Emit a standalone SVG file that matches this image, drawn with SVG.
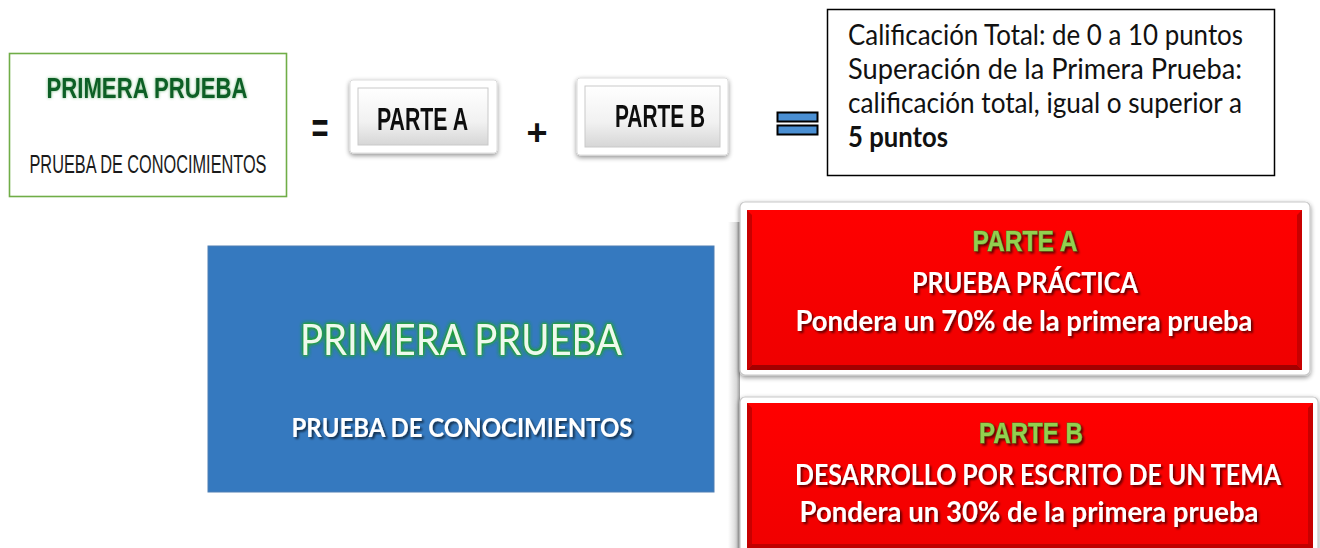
<svg xmlns="http://www.w3.org/2000/svg" width="1320" height="548" viewBox="0 0 1320 548">
  <defs>
    <linearGradient id="btnFace" x1="0" y1="0" x2="0" y2="1">
      <stop offset="0" stop-color="#ffffff"/>
      <stop offset="0.6" stop-color="#f1f1f1"/>
      <stop offset="1" stop-color="#d6d6d6"/>
    </linearGradient>
    <linearGradient id="redFace" x1="0" y1="0" x2="0" y2="1">
      <stop offset="0" stop-color="#ff0000"/>
      <stop offset="1" stop-color="#ef0000"/>
    </linearGradient>
    <linearGradient id="strip" x1="0" y1="0" x2="1" y2="0">
      <stop offset="0" stop-color="#ffffff"/>
      <stop offset="0.7" stop-color="#d8d8d8"/>
      <stop offset="1" stop-color="#9a9a9a"/>
    </linearGradient>
    <filter id="softShadow" x="-10%" y="-10%" width="120%" height="130%">
      <feGaussianBlur in="SourceAlpha" stdDeviation="2.5"/>
      <feOffset dx="0" dy="2" result="b"/>
      <feComponentTransfer><feFuncA type="linear" slope="0.45"/></feComponentTransfer>
      <feMerge><feMergeNode/><feMergeNode in="SourceGraphic"/></feMerge>
    </filter>
    <filter id="txtShadow" x="-10%" y="-30%" width="120%" height="170%">
      <feGaussianBlur in="SourceAlpha" stdDeviation="1"/>
      <feOffset dx="1.5" dy="1.5"/>
      <feComponentTransfer><feFuncA type="linear" slope="0.6"/></feComponentTransfer>
      <feMerge><feMergeNode/><feMergeNode in="SourceGraphic"/></feMerge>
    </filter>
    <filter id="greenGlow" x="-10%" y="-30%" width="120%" height="160%">
      <feGaussianBlur in="SourceAlpha" stdDeviation="2.2" result="bl"/>
      <feFlood flood-color="#1f9a3c"/>
      <feComposite operator="in" in2="bl"/>
      <feComponentTransfer><feFuncA type="linear" slope="1.8"/></feComponentTransfer>
      <feMerge><feMergeNode/><feMergeNode in="SourceGraphic"/></feMerge>
    </filter>
    <filter id="darkGlow" x="-10%" y="-30%" width="120%" height="160%">
      <feGaussianBlur in="SourceAlpha" stdDeviation="1.5" result="bl"/>
      <feFlood flood-color="#3b9a4a" flood-opacity="0.7"/>
      <feComposite operator="in" in2="bl"/>
      <feMerge><feMergeNode/><feMergeNode in="SourceGraphic"/></feMerge>
    </filter>
  </defs>
  <style>
    .sans { font-family: "Lato", "Liberation Sans", "DejaVu Sans", sans-serif; }
    .cond { font-family: "Liberation Sans", "DejaVu Sans", sans-serif; }
    .body { font-family: "Lato", "Liberation Sans", sans-serif; font-size: 28px; fill: #111111; }
    .btnTxt { font-family: "Liberation Sans", "DejaVu Sans", sans-serif; font-weight: bold; font-size: 31px; fill: #111111; }
    .whiteB { font-family: "Lato", "Liberation Sans", sans-serif; font-weight: bold; font-size: 28px; fill: #ffffff; }
    .greenB { font-family: "Liberation Sans", "DejaVu Sans", sans-serif; font-weight: bold; font-size: 29px; fill: #92d050; stroke: #4e7d24; stroke-width: 1; paint-order: stroke; }
    .redFrame { fill: #ffffff; stroke: #c8c8c8; stroke-width: 1.2; }
  </style>
  <rect width="1320" height="548" fill="#ffffff"/>

  <g id="connectors"></g>

  <g id="primera-prueba-small">
    <rect x="9.5" y="53.5" width="277" height="143" fill="#ffffff" stroke="#70ad47" stroke-width="1.6"/>
    <text x="147" y="98" text-anchor="middle" class="cond" font-weight="bold" font-size="29" fill="#0f5f25" textLength="201" lengthAdjust="spacingAndGlyphs" filter="url(#darkGlow)">PRIMERA PRUEBA</text>
    <text x="148" y="173" text-anchor="middle" class="cond" font-size="25" fill="#1a1a1a" textLength="237" lengthAdjust="spacingAndGlyphs">PRUEBA DE CONOCIMIENTOS</text>
  </g>

  <g id="operators">
    <text x="320" y="143" text-anchor="middle" font-family="Liberation Sans, sans-serif" font-weight="bold" font-size="42" fill="#111111" textLength="17" lengthAdjust="spacingAndGlyphs">=</text>
    <text x="537" y="145" text-anchor="middle" font-family="Liberation Sans, sans-serif" font-weight="bold" font-size="36" fill="#111111">+</text>
  </g>

  <g id="parte-a-button" filter="url(#softShadow)">
    <rect x="350" y="80" width="147" height="73" rx="3" fill="#ffffff" stroke="#dcdcdc"/>
    <rect x="358" y="88" width="130" height="57" fill="url(#btnFace)" stroke="#c9c9c9"/>
    <text x="422.5" y="130" text-anchor="middle" class="btnTxt" textLength="91" lengthAdjust="spacingAndGlyphs">PARTE A</text>
  </g>

  <g id="parte-b-button" filter="url(#softShadow)">
    <rect x="577" y="78" width="151" height="77" rx="3" fill="#ffffff" stroke="#dcdcdc"/>
    <rect x="585" y="86" width="135" height="61" fill="url(#btnFace)" stroke="#c9c9c9"/>
    <text x="660" y="127" text-anchor="middle" class="btnTxt" textLength="90" lengthAdjust="spacingAndGlyphs">PARTE B</text>
  </g>

  <g id="equals-icon">
    <rect x="777.5" y="112.5" width="40" height="9" fill="#4a8fd3" stroke="#000000" stroke-width="2"/>
    <rect x="777.5" y="125.5" width="40" height="9" fill="#4a8fd3" stroke="#000000" stroke-width="2"/>
  </g>

  <g id="calificacion">
    <rect x="827.5" y="9.5" width="447" height="166" fill="#ffffff" stroke="#000000" stroke-width="1.5"/>
    <text x="848" y="45" class="body" textLength="395" lengthAdjust="spacingAndGlyphs">Calificación Total: de 0 a 10 puntos</text>
    <text x="848" y="79" class="body" textLength="394" lengthAdjust="spacingAndGlyphs">Superación de la Primera Prueba:</text>
    <text x="848" y="113" class="body" textLength="394" lengthAdjust="spacingAndGlyphs">calificación total, igual o superior a</text>
    <text x="848" y="147" class="body" font-weight="bold" textLength="100" lengthAdjust="spacingAndGlyphs">5 puntos</text>
  </g>

  <g id="primera-prueba-blue">
    <rect x="208" y="246" width="506" height="246" fill="#3579bf" stroke="#4f7fb3" stroke-width="1"/>
    <text x="461" y="355" text-anchor="middle" class="sans" font-size="42" fill="#eef9ec" stroke="#2aa44a" stroke-width="1" paint-order="stroke" textLength="322" lengthAdjust="spacingAndGlyphs" filter="url(#greenGlow)">PRIMERA PRUEBA</text>
    <text x="462" y="437" text-anchor="middle" class="sans" font-weight="bold" font-size="27" fill="#ffffff" textLength="341" lengthAdjust="spacingAndGlyphs" filter="url(#txtShadow)">PRUEBA DE CONOCIMIENTOS</text>
  </g>

  <g id="side-strip">
    <rect x="728" y="222" width="12" height="326" fill="url(#strip)"/>
  </g>

  <g id="parte-a-card">
    <rect x="740" y="202" width="570" height="173" rx="5" class="redFrame" filter="url(#softShadow)"/>
    <rect x="747" y="210" width="555" height="160" fill="url(#redFace)"/>
    <path d="M747 370 L752 365 L1297 365 L1302 370 Z" fill="#a30000"/>
    <path d="M747 210 L752 215 L752 365 L747 370 Z" fill="#c80000"/>
    <path d="M1302 210 L1297 215 L1297 365 L1302 370 Z" fill="#c80000"/>
    <text x="1025" y="251" text-anchor="middle" class="greenB" textLength="105" lengthAdjust="spacingAndGlyphs" filter="url(#txtShadow)">PARTE A</text>
    <text x="1025" y="293" text-anchor="middle" class="whiteB" textLength="226" lengthAdjust="spacingAndGlyphs" filter="url(#txtShadow)">PRUEBA PRÁCTICA</text>
    <text x="1024" y="331" text-anchor="middle" class="whiteB" textLength="457" lengthAdjust="spacingAndGlyphs" filter="url(#txtShadow)">Pondera un 70% de la primera prueba</text>
  </g>

  <g id="parte-b-card">
    <rect x="740" y="397" width="578" height="170" rx="5" class="redFrame" filter="url(#softShadow)"/>
    <rect x="747" y="403" width="566" height="160" fill="url(#redFace)"/>
    <path d="M747 403 L752 408 L752 560 L747 560 Z" fill="#c80000"/>
    <path d="M1313 403 L1308 408 L1308 560 L1313 560 Z" fill="#c80000"/>
    <rect x="747" y="544" width="566" height="4" fill="#c00000"/>
    <text x="1031" y="443" text-anchor="middle" class="greenB" textLength="104" lengthAdjust="spacingAndGlyphs" filter="url(#txtShadow)">PARTE B</text>
    <text x="1038" y="485" text-anchor="middle" class="whiteB" font-size="26" textLength="486" lengthAdjust="spacingAndGlyphs" filter="url(#txtShadow)">DESARROLLO POR ESCRITO DE UN TEMA</text>
    <text x="1029" y="522" text-anchor="middle" class="whiteB" textLength="459" lengthAdjust="spacingAndGlyphs" filter="url(#txtShadow)">Pondera un 30% de la primera prueba</text>
  </g>
</svg>
